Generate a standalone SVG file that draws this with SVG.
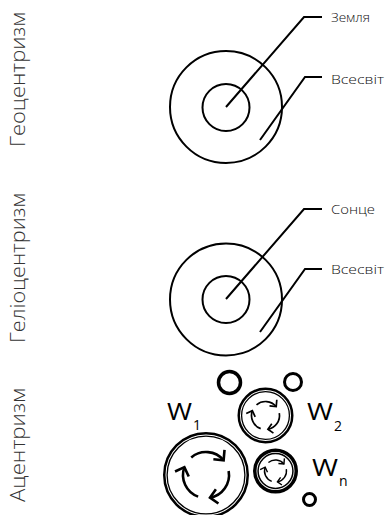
<svg xmlns="http://www.w3.org/2000/svg" width="388" height="515" viewBox="0 0 388 515">
<style>
.c{fill:none;stroke:#000;stroke-width:2}
.ln{fill:none;stroke:#000;stroke-width:2;stroke-linejoin:miter}
.vt{font-family:"Open Sans","Liberation Sans",sans-serif;font-size:20px;font-weight:300;fill:#333}
.lb{font-family:"Open Sans","Liberation Sans",sans-serif;font-size:13px;font-weight:300;fill:#111}
.w{font-family:"Open Sans","Liberation Sans",sans-serif;font-size:23px;fill:#000}
.ws{font-family:"Open Sans","Liberation Sans",sans-serif;font-size:14px;fill:#000}
.ar{fill:none;stroke:#000;marker-end:url(#ah)}
.sc{fill:none;stroke:#000}
</style>
<defs>
<marker id="ah" viewBox="-5 -5 6 10" refX="0" refY="0" markerWidth="6" markerHeight="10" markerUnits="strokeWidth" orient="auto" overflow="visible">
<path d="M-2.8,-2.8 L0,0 L-2.8,2.8" fill="none" stroke="#000" stroke-width="1"/>
</marker>
</defs>
<rect width="388" height="515" fill="#fff"/>

<g id="label-geo"><text class="vt" transform="translate(25,147) rotate(-90)" textLength="135" lengthAdjust="spacingAndGlyphs">Геоцентризм</text></g>
<g id="label-helio"><text class="vt" transform="translate(25,343) rotate(-90)" textLength="150" lengthAdjust="spacingAndGlyphs">Геліоцентризм</text></g>
<g id="label-acentr"><text class="vt" transform="translate(25,502) rotate(-90)" textLength="114" lengthAdjust="spacingAndGlyphs">Ацентризм</text></g>

<g id="geo-universe"><circle class="c" cx="226" cy="107" r="56"/></g>
<g id="geo-earth"><circle class="c" cx="226" cy="107.5" r="23.5"/></g>
<g id="helio-universe"><circle class="c" cx="226" cy="299.5" r="56"/></g>
<g id="helio-sun"><circle class="c" cx="226" cy="299.5" r="23.5"/></g>

<g id="connectors">
<polyline class="ln" points="226,107 304,17 322,17"/>
<polyline class="ln" points="260,140 305,77 322,77"/>
<polyline class="ln" points="226,299 304,209 322,209"/>
<polyline class="ln" points="260,332 305,269 322,269"/>
</g>

<g id="lbl-earth"><text class="lb" x="331" y="22" textLength="39" lengthAdjust="spacingAndGlyphs">Земля</text></g>
<g id="lbl-univ1"><text class="lb" x="331" y="84" textLength="53" lengthAdjust="spacingAndGlyphs">Всесвіт</text></g>
<g id="lbl-sun"><text class="lb" x="331" y="214" textLength="44" lengthAdjust="spacingAndGlyphs">Сонце</text></g>
<g id="lbl-univ2"><text class="lb" x="331" y="274" textLength="53" lengthAdjust="spacingAndGlyphs">Всесвіт</text></g>

<g id="small-1"><circle class="sc" cx="229.5" cy="382.5" r="11" stroke-width="3.5"/></g>
<g id="small-2"><circle class="sc" cx="293" cy="382" r="8.5" stroke-width="3"/></g>
<g id="small-3"><circle class="sc" cx="309.5" cy="499.5" r="6" stroke-width="3"/></g>

<g id="world-1">
<circle class="sc" cx="206" cy="475" r="41.75" stroke-width="2.5"/>
<circle class="sc" cx="206" cy="475" r="38.9" stroke-width="1.3"/>
<path class="ar" stroke-width="2.6" d="M191.22,457.38 A23,23 0 0 1 223.62,460.22"/>
<path class="ar" stroke-width="2.6" d="M228.65,471.01 A23,23 0 0 1 209.99,497.65"/>
<path class="ar" stroke-width="2.6" d="M198.13,496.61 A23,23 0 0 1 184.39,467.13"/>
</g>
<g id="world-2">
<circle class="sc" cx="265.5" cy="415.5" r="26.75" stroke-width="2.5"/>
<circle class="sc" cx="265.5" cy="415.5" r="23.9" stroke-width="1.3"/>
<path class="ar" stroke-width="1.7" d="M256.5,404.78 A14,14 0 0 1 276.22,406.5"/>
<path class="ar" stroke-width="1.7" d="M279.29,413.07 A14,14 0 0 1 267.93,429.29"/>
<path class="ar" stroke-width="1.7" d="M260.71,428.66 A14,14 0 0 1 252.34,410.71"/>
</g>
<g id="world-n">
<circle class="sc" cx="275.5" cy="471" r="20.75" stroke-width="3.5"/>
<circle class="sc" cx="275.5" cy="471" r="17.45" stroke-width="1.5"/>
<path class="ar" stroke-width="1.4" d="M268.43,462.57 A11,11 0 0 1 283.93,463.93"/>
<path class="ar" stroke-width="1.4" d="M286.33,469.09 A11,11 0 0 1 277.41,481.83"/>
<path class="ar" stroke-width="1.4" d="M271.74,481.34 A11,11 0 0 1 265.16,467.24"/>
</g>

<g id="lbl-w1"><text class="w" x="167" y="420" textLength="25" lengthAdjust="spacingAndGlyphs">W</text><text class="ws" x="193" y="430">1</text></g>
<g id="lbl-w2"><text class="w" x="307" y="420" textLength="26" lengthAdjust="spacingAndGlyphs">W</text><text class="ws" x="334" y="431">2</text></g>
<g id="lbl-wn"><text class="w" x="312" y="476" textLength="26" lengthAdjust="spacingAndGlyphs">W</text><text class="ws" x="339" y="486">n</text></g>
</svg>
